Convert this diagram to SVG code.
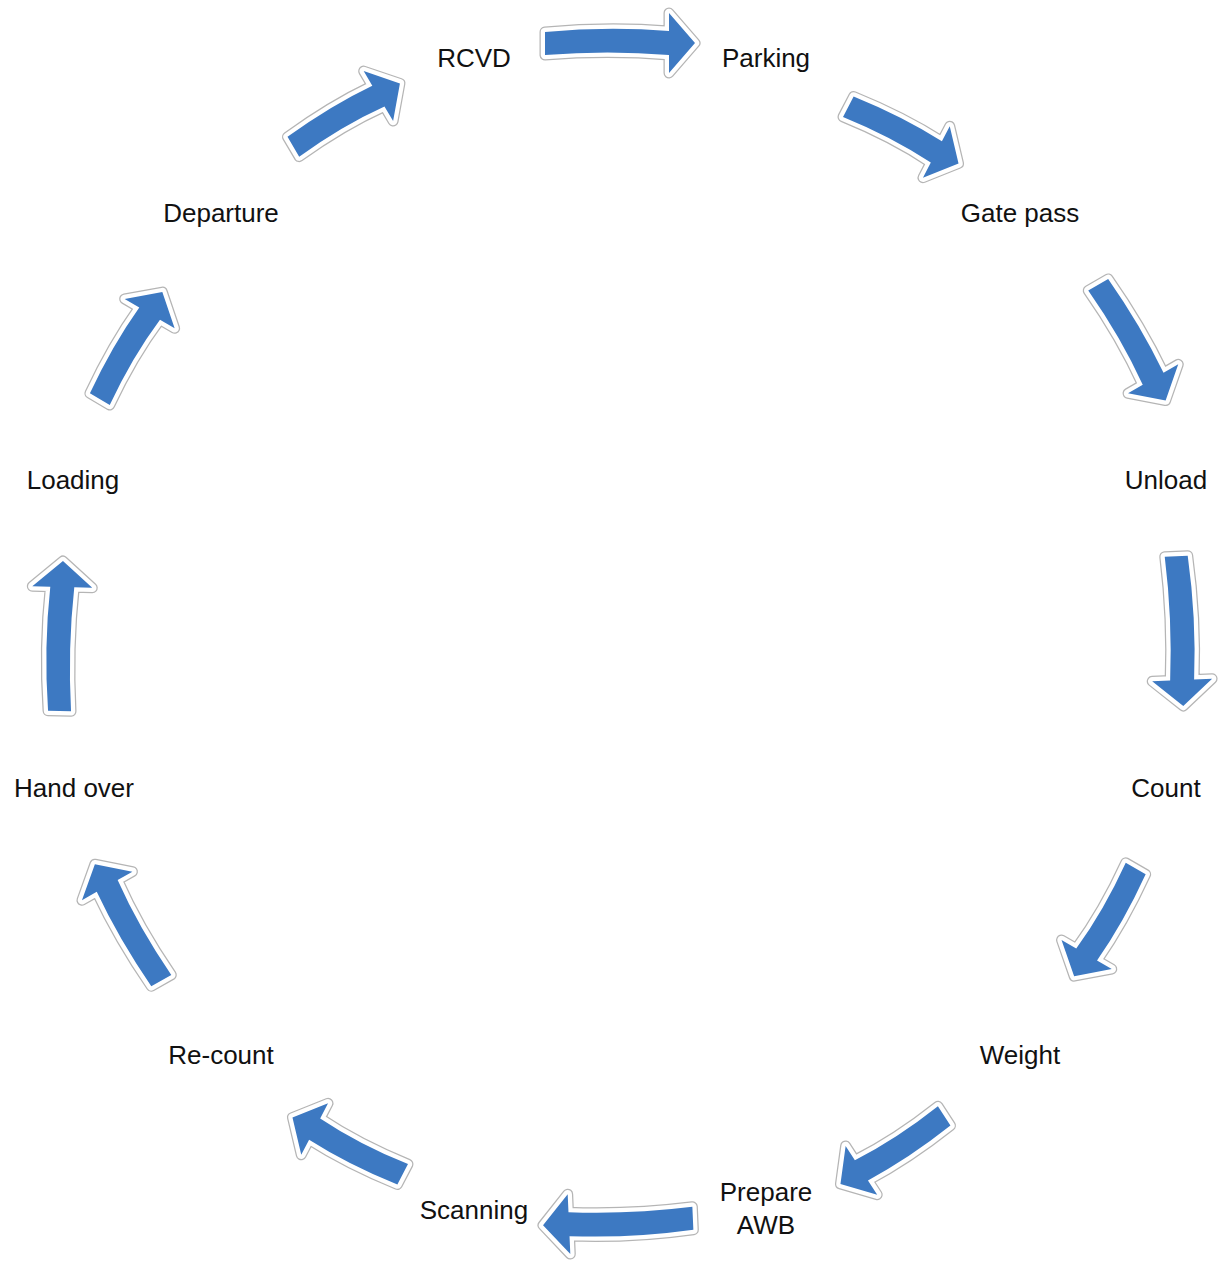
<svg xmlns="http://www.w3.org/2000/svg" xmlns:xlink="http://www.w3.org/1999/xlink" width="1218" height="1263" viewBox="0 0 1218 1263">
<style>
.o{fill:#b5b5b5;stroke:#b5b5b5;stroke-width:11;stroke-linejoin:round}
.w{fill:#ffffff;stroke:#ffffff;stroke-width:8.5;stroke-linejoin:round}
.b{fill:#3d79c2;stroke:none}
text{font-family:"Liberation Sans",Arial,sans-serif;font-size:26px;fill:#111;text-anchor:middle}
</style>
<defs>
<path id="aL" d="M -75,-10 Q -12,-16 49,-11 L 49,-29 L 75,1 L 49,31 L 49,13 Q -12,8 -75,13 Z"/>
<path id="aM" d="M -67,-10 Q -10,-15 42,-11 L 42,-28 L 67,1 L 42,30 L 42,13 Q -10,8 -67,13 Z"/>
<path id="aS" d="M -62,-10 Q -9,-15 37,-11 L 37,-28 L 62,1 L 37,30 L 37,13 Q -9,8 -62,13 Z"/>
</defs>
<g id="connectors">
<g transform="translate(620,42) rotate(0)"><use href="#aL" class="o"/><use href="#aL" class="w"/><use href="#aL" class="b"/></g>
<g transform="translate(904,134) rotate(27.5)"><use href="#aS" class="o"/><use href="#aS" class="w"/><use href="#aS" class="b"/></g>
<g transform="translate(1133,342) rotate(60)"><use href="#aM" class="o"/><use href="#aM" class="w"/><use href="#aM" class="b"/></g>
<g transform="translate(1181,631) rotate(87.5)"><use href="#aL" class="o"/><use href="#aL" class="w"/><use href="#aL" class="b"/></g>
<g transform="translate(1106,923) rotate(120)"><use href="#aS" class="o"/><use href="#aS" class="w"/><use href="#aS" class="b"/></g>
<g transform="translate(893,1151) rotate(147)"><use href="#aS" class="o"/><use href="#aS" class="w"/><use href="#aS" class="b"/></g>
<g transform="translate(618,1223) rotate(177.5)"><use href="#aL" class="o"/><use href="#aL" class="w"/><use href="#aL" class="b"/></g>
<g transform="translate(347,1147) rotate(207.5)"><use href="#aS" class="o"/><use href="#aS" class="w"/><use href="#aS" class="b"/></g>
<g transform="translate(127,923) rotate(240.5)"><use href="#aM" class="o"/><use href="#aM" class="w"/><use href="#aM" class="b"/></g>
<g transform="translate(60,636) rotate(271.5)"><use href="#aL" class="o"/><use href="#aL" class="w"/><use href="#aL" class="b"/></g>
<g transform="translate(130,345) rotate(300.5)"><use href="#aS" class="o"/><use href="#aS" class="w"/><use href="#aS" class="b"/></g>
<g transform="translate(346,114) rotate(329.5)"><use href="#aS" class="o"/><use href="#aS" class="w"/><use href="#aS" class="b"/></g>
</g>
<g id="n-rcvd"><text x="474" y="67">RCVD</text></g>
<g id="n-parking"><text x="766" y="67">Parking</text></g>
<g id="n-gatepass"><text x="1020" y="222">Gate pass</text></g>
<g id="n-unload"><text x="1166" y="489">Unload</text></g>
<g id="n-count"><text x="1166" y="797">Count</text></g>
<g id="n-weight"><text x="1020" y="1064">Weight</text></g>
<g id="n-prepare"><text x="766" y="1201">Prepare</text><text x="766" y="1234">AWB</text></g>
<g id="n-scanning"><text x="474" y="1219">Scanning</text></g>
<g id="n-recount"><text x="221" y="1064">Re-count</text></g>
<g id="n-handover"><text x="74" y="797">Hand over</text></g>
<g id="n-loading"><text x="73" y="489">Loading</text></g>
<g id="n-departure"><text x="221" y="222">Departure</text></g>
</svg>
